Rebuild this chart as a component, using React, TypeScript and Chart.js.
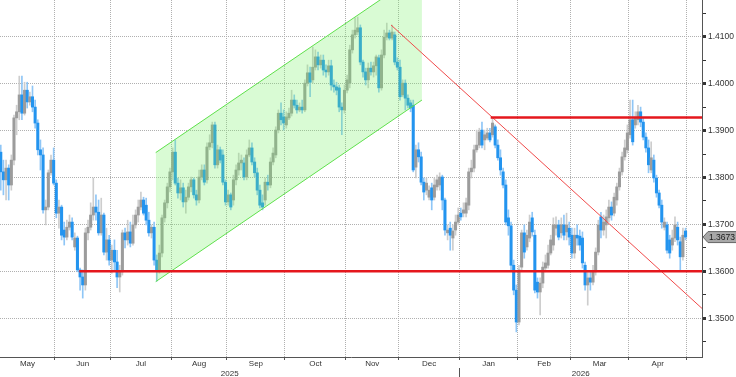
import React, { useEffect, useRef } from 'react';
import { Chart, registerables } from 'chart.js';

Chart.register(...registerables);
Chart.defaults.font.family = "'Liberation Sans', Arial, sans-serif";

// Daily candles, trading days from 2 May 2025 to 30 Apr 2026
const openP = [
  1.3854, 1.3812, 1.3795, 1.3820, 1.3784, 1.3837, 1.3927, 1.3940, 1.3976, 1.3937,
  1.3986, 1.3961, 1.3972, 1.3950, 1.3916, 1.3859, 1.3848, 1.3731, 1.3737, 1.3810,
  1.3837, 1.3788, 1.3724, 1.3737, 1.3688, 1.3673, 1.3694, 1.3705, 1.3652, 1.3671,
  1.3603, 1.3588, 1.3571, 1.3682, 1.3694, 1.3720, 1.3737, 1.3726, 1.3682, 1.3720,
  1.3641, 1.3667, 1.3624, 1.3645, 1.3620, 1.3588, 1.3599, 1.3682, 1.3667, 1.3684,
  1.3660, 1.3699, 1.3720, 1.3737, 1.3752, 1.3741, 1.3709, 1.3682, 1.3694, 1.3624,
  1.3603, 1.3639, 1.3714, 1.3746, 1.3780, 1.3812, 1.3854, 1.3788, 1.3767, 1.3778,
  1.3748, 1.3758, 1.3780, 1.3795, 1.3763, 1.3752, 1.3801, 1.3816, 1.3795, 1.3865,
  1.3874, 1.3912, 1.3827, 1.3859, 1.3848, 1.3790, 1.3748, 1.3763, 1.3752, 1.3795,
  1.3816, 1.3831, 1.3831, 1.3801, 1.3848, 1.3863, 1.3833, 1.3810, 1.3773, 1.3746,
  1.3752, 1.3790, 1.3784, 1.3833, 1.3848, 1.3901, 1.3937, 1.3929, 1.3912, 1.3927,
  1.3937, 1.3965, 1.3954, 1.3944, 1.3950, 1.3944, 1.4001, 1.4023, 1.4008, 1.4035,
  1.4057, 1.4040, 1.4050, 1.4029, 1.4025, 1.4038, 1.3997, 1.3993, 1.3991, 1.3950,
  1.3944, 1.3986, 1.4001, 1.4072, 1.4104, 1.4110, 1.4119, 1.4046, 1.4025, 1.4008,
  1.4033, 1.4025, 1.4038, 1.4055, 1.3991, 1.4061, 1.4099, 1.4108, 1.4097, 1.4104,
  1.4046, 1.4035, 1.3976, 1.4001, 1.3969, 1.3959, 1.3954, 1.3822, 1.3859, 1.3844,
  1.3790, 1.3773, 1.3758, 1.3778, 1.3758, 1.3780, 1.3784, 1.3801, 1.3752, 1.3682,
  1.3692, 1.3671, 1.3688, 1.3705, 1.3724, 1.3724, 1.3724, 1.3741, 1.3812, 1.3820,
  1.3859, 1.3869, 1.3901, 1.3880, 1.3884, 1.3895, 1.3891, 1.3908, 1.3869, 1.3842,
  1.3812, 1.3784, 1.3714, 1.3697, 1.3613, 1.3560, 1.3492, 1.3609, 1.3682, 1.3652,
  1.3671, 1.3714, 1.3677, 1.3577, 1.3556, 1.3575, 1.3607, 1.3613, 1.3639, 1.3656,
  1.3692, 1.3699, 1.3682, 1.3699, 1.3684, 1.3692, 1.3677, 1.3639, 1.3677, 1.3675,
  1.3671, 1.3613, 1.3571, 1.3586, 1.3577, 1.3599, 1.3641, 1.3716, 1.3688, 1.3699,
  1.3714, 1.3737, 1.3724, 1.3752, 1.3780, 1.3812, 1.3844, 1.3859, 1.3891, 1.3923,
  1.3912, 1.3923, 1.3940, 1.3918, 1.3886, 1.3863, 1.3816, 1.3837, 1.3799, 1.3767,
  1.3741, 1.3694, 1.3699, 1.3667, 1.3656, 1.3671, 1.3694, 1.3663, 1.3631, 1.3686,
];

const highP = [
  1.3869, 1.3837, 1.3837, 1.3827, 1.3848, 1.3933, 1.3954, 1.4016, 1.4016, 1.4003,
  1.4003, 1.3982, 1.3995, 1.3965, 1.3923, 1.3880, 1.3863, 1.3752, 1.3816, 1.3848,
  1.3863, 1.3795, 1.3752, 1.3741, 1.3705, 1.3709, 1.3720, 1.3714, 1.3682, 1.3675,
  1.3607, 1.3603, 1.3692, 1.3709, 1.3746, 1.3799, 1.3763, 1.3752, 1.3756, 1.3724,
  1.3692, 1.3677, 1.3656, 1.3667, 1.3645, 1.3613, 1.3688, 1.3692, 1.3709, 1.3705,
  1.3720, 1.3731, 1.3752, 1.3769, 1.3758, 1.3756, 1.3726, 1.3699, 1.3705, 1.3635,
  1.3656, 1.3720, 1.3752, 1.3788, 1.3820, 1.3863, 1.3880, 1.3799, 1.3795, 1.3788,
  1.3773, 1.3788, 1.3801, 1.3799, 1.3773, 1.3816, 1.3827, 1.3827, 1.3874, 1.3891,
  1.3918, 1.3918, 1.3869, 1.3865, 1.3859, 1.3795, 1.3773, 1.3767, 1.3805, 1.3827,
  1.3852, 1.3848, 1.3842, 1.3859, 1.3880, 1.3874, 1.3842, 1.3820, 1.3784, 1.3763,
  1.3799, 1.3805, 1.3842, 1.3863, 1.3908, 1.3944, 1.3959, 1.3944, 1.3940, 1.3948,
  1.3986, 1.3976, 1.3965, 1.3959, 1.3965, 1.4008, 1.4040, 1.4035, 1.4078, 1.4072,
  1.4067, 1.4061, 1.4061, 1.4040, 1.4050, 1.4050, 1.4008, 1.4003, 1.3997, 1.3959,
  1.3997, 1.4018, 1.4082, 1.4114, 1.4140, 1.4142, 1.4125, 1.4050, 1.4033, 1.4044,
  1.4046, 1.4046, 1.4061, 1.4061, 1.4072, 1.4114, 1.4129, 1.4114, 1.4125, 1.4110,
  1.4055, 1.4050, 1.4008, 1.4008, 1.3976, 1.3965, 1.3965, 1.3869, 1.3874, 1.3854,
  1.3799, 1.3799, 1.3782, 1.3788, 1.3799, 1.3805, 1.3810, 1.3805, 1.3756, 1.3699,
  1.3705, 1.3699, 1.3720, 1.3735, 1.3735, 1.3746, 1.3756, 1.3820, 1.3837, 1.3869,
  1.3901, 1.3905, 1.3918, 1.3901, 1.3905, 1.3905, 1.3927, 1.3912, 1.3880, 1.3859,
  1.3820, 1.3795, 1.3731, 1.3705, 1.3624, 1.3571, 1.3613, 1.3688, 1.3699, 1.3688,
  1.3720, 1.3726, 1.3688, 1.3586, 1.3586, 1.3620, 1.3635, 1.3656, 1.3677, 1.3714,
  1.3716, 1.3709, 1.3714, 1.3720, 1.3724, 1.3705, 1.3692, 1.3692, 1.3699, 1.3688,
  1.3684, 1.3620, 1.3599, 1.3599, 1.3613, 1.3650, 1.3709, 1.3726, 1.3720, 1.3731,
  1.3752, 1.3748, 1.3767, 1.3788, 1.3820, 1.3854, 1.3880, 1.3912, 1.3965, 1.3965,
  1.3940, 1.3954, 1.3950, 1.3927, 1.3895, 1.3880, 1.3876, 1.3848, 1.3805, 1.3773,
  1.3752, 1.3714, 1.3705, 1.3677, 1.3688, 1.3716, 1.3705, 1.3673, 1.3692, 1.3692,
];

const lowP = [
  1.3773, 1.3763, 1.3752, 1.3752, 1.3773, 1.3827, 1.3891, 1.3923, 1.3923, 1.3933,
  1.3948, 1.3954, 1.3940, 1.3905, 1.3848, 1.3816, 1.3724, 1.3699, 1.3731, 1.3805,
  1.3784, 1.3714, 1.3692, 1.3667, 1.3656, 1.3667, 1.3688, 1.3667, 1.3645, 1.3599,
  1.3560, 1.3543, 1.3560, 1.3667, 1.3688, 1.3709, 1.3709, 1.3677, 1.3677, 1.3635,
  1.3624, 1.3613, 1.3596, 1.3603, 1.3565, 1.3556, 1.3592, 1.3650, 1.3656, 1.3652,
  1.3656, 1.3692, 1.3705, 1.3731, 1.3720, 1.3699, 1.3675, 1.3671, 1.3613, 1.3579,
  1.3596, 1.3631, 1.3705, 1.3735, 1.3769, 1.3795, 1.3784, 1.3756, 1.3752, 1.3737,
  1.3724, 1.3752, 1.3769, 1.3756, 1.3741, 1.3746, 1.3795, 1.3784, 1.3788, 1.3859,
  1.3863, 1.3820, 1.3820, 1.3831, 1.3784, 1.3741, 1.3741, 1.3731, 1.3741, 1.3784,
  1.3805, 1.3816, 1.3795, 1.3795, 1.3844, 1.3827, 1.3801, 1.3763, 1.3735, 1.3731,
  1.3741, 1.3773, 1.3778, 1.3827, 1.3842, 1.3895, 1.3912, 1.3901, 1.3905, 1.3923,
  1.3931, 1.3948, 1.3937, 1.3940, 1.3937, 1.3940, 1.3995, 1.3972, 1.4001, 1.4029,
  1.4029, 1.4033, 1.4018, 1.4014, 1.4018, 1.3986, 1.3982, 1.3976, 1.3940, 1.3891,
  1.3937, 1.3980, 1.3991, 1.4065, 1.4097, 1.4104, 1.4040, 1.4014, 1.3997, 1.3991,
  1.4018, 1.4014, 1.4018, 1.3982, 1.3986, 1.4055, 1.4093, 1.4093, 1.4093, 1.4040,
  1.4029, 1.3965, 1.3972, 1.3944, 1.3948, 1.3940, 1.3812, 1.3799, 1.3833, 1.3784,
  1.3752, 1.3763, 1.3752, 1.3731, 1.3752, 1.3773, 1.3773, 1.3731, 1.3677, 1.3667,
  1.3645, 1.3645, 1.3677, 1.3699, 1.3709, 1.3716, 1.3716, 1.3731, 1.3799, 1.3812,
  1.3854, 1.3863, 1.3863, 1.3859, 1.3880, 1.3876, 1.3886, 1.3863, 1.3837, 1.3805,
  1.3778, 1.3699, 1.3677, 1.3603, 1.3550, 1.3471, 1.3486, 1.3603, 1.3628, 1.3645,
  1.3663, 1.3675, 1.3554, 1.3543, 1.3507, 1.3565, 1.3599, 1.3607, 1.3635, 1.3645,
  1.3677, 1.3667, 1.3671, 1.3667, 1.3667, 1.3656, 1.3628, 1.3628, 1.3656, 1.3645,
  1.3607, 1.3560, 1.3528, 1.3560, 1.3571, 1.3592, 1.3635, 1.3671, 1.3677, 1.3671,
  1.3705, 1.3709, 1.3718, 1.3741, 1.3773, 1.3805, 1.3837, 1.3852, 1.3884, 1.3869,
  1.3905, 1.3912, 1.3908, 1.3880, 1.3854, 1.3810, 1.3810, 1.3790, 1.3758, 1.3735,
  1.3692, 1.3688, 1.3639, 1.3628, 1.3645, 1.3663, 1.3656, 1.3603, 1.3624, 1.3667,
];

const closeP = [
  1.3812, 1.3795, 1.3820, 1.3784, 1.3837, 1.3927, 1.3940, 1.3976, 1.3937, 1.3986,
  1.3961, 1.3972, 1.3950, 1.3916, 1.3859, 1.3848, 1.3731, 1.3737, 1.3810, 1.3837,
  1.3788, 1.3724, 1.3737, 1.3677, 1.3673, 1.3694, 1.3705, 1.3673, 1.3671, 1.3603,
  1.3588, 1.3571, 1.3682, 1.3694, 1.3720, 1.3737, 1.3726, 1.3682, 1.3720, 1.3641,
  1.3667, 1.3624, 1.3645, 1.3620, 1.3588, 1.3599, 1.3682, 1.3667, 1.3684, 1.3660,
  1.3699, 1.3720, 1.3737, 1.3752, 1.3724, 1.3709, 1.3682, 1.3694, 1.3624, 1.3603,
  1.3639, 1.3714, 1.3746, 1.3780, 1.3812, 1.3854, 1.3788, 1.3767, 1.3778, 1.3748,
  1.3758, 1.3780, 1.3795, 1.3763, 1.3752, 1.3801, 1.3816, 1.3790, 1.3865, 1.3874,
  1.3912, 1.3827, 1.3859, 1.3837, 1.3790, 1.3748, 1.3763, 1.3737, 1.3795, 1.3816,
  1.3831, 1.3837, 1.3801, 1.3848, 1.3863, 1.3833, 1.3810, 1.3773, 1.3741, 1.3737,
  1.3790, 1.3784, 1.3833, 1.3852, 1.3901, 1.3937, 1.3923, 1.3916, 1.3929, 1.3937,
  1.3965, 1.3954, 1.3944, 1.3950, 1.3944, 1.4001, 1.4023, 1.4003, 1.4035, 1.4057,
  1.4040, 1.4050, 1.4029, 1.4025, 1.4038, 1.3997, 1.3993, 1.3986, 1.3950, 1.3944,
  1.3986, 1.4008, 1.4072, 1.4104, 1.4114, 1.4119, 1.4046, 1.4025, 1.4008, 1.4033,
  1.4025, 1.4038, 1.4057, 1.3991, 1.4061, 1.4099, 1.4108, 1.4097, 1.4110, 1.4046,
  1.4035, 1.3972, 1.4001, 1.3969, 1.3954, 1.3948, 1.3816, 1.3859, 1.3844, 1.3790,
  1.3769, 1.3788, 1.3773, 1.3752, 1.3784, 1.3795, 1.3801, 1.3752, 1.3688, 1.3688,
  1.3677, 1.3686, 1.3705, 1.3720, 1.3716, 1.3731, 1.3746, 1.3812, 1.3820, 1.3859,
  1.3869, 1.3897, 1.3869, 1.3891, 1.3895, 1.3880, 1.3916, 1.3869, 1.3842, 1.3816,
  1.3784, 1.3705, 1.3697, 1.3613, 1.3560, 1.3492, 1.3603, 1.3682, 1.3641, 1.3677,
  1.3705, 1.3684, 1.3560, 1.3556, 1.3575, 1.3609, 1.3618, 1.3639, 1.3667, 1.3699,
  1.3699, 1.3673, 1.3699, 1.3677, 1.3699, 1.3673, 1.3639, 1.3677, 1.3671, 1.3656,
  1.3618, 1.3571, 1.3586, 1.3577, 1.3599, 1.3641, 1.3699, 1.3688, 1.3705, 1.3716,
  1.3737, 1.3720, 1.3758, 1.3780, 1.3812, 1.3844, 1.3863, 1.3895, 1.3923, 1.3876,
  1.3927, 1.3940, 1.3918, 1.3886, 1.3863, 1.3827, 1.3842, 1.3799, 1.3767, 1.3741,
  1.3705, 1.3705, 1.3645, 1.3639, 1.3671, 1.3699, 1.3667, 1.3631, 1.3677, 1.3673,
];

// Calendar: trading-day count at which each month starts (0 = 1 May 2025)
const monthStarts = [22, 43, 66, 87, 109, 132, 152, 175, 197, 217, 239, 261];
const monthNames = ['May', 'Jun', 'Jul', 'Aug', 'Sep', 'Oct', 'Nov', 'Dec', 'Jan', 'Feb', 'Mar', 'Apr'];
const yearNames = ['2025', '2026'];
const yearBoundary = 175;
const priceTicks = [1.345, 1.35, 1.355, 1.36, 1.365, 1.37, 1.375, 1.38, 1.385, 1.39, 1.395, 1.4, 1.405, 1.41, 1.415];

// Drawn studies (trading-day, price)
const supportLevel = 1.36;
const supportFromDay = 31.2;
const resistanceLevel = 1.3928;
const resistanceFromDay = 186.8;
const trendStartDay = 149.1;
const trendStartPrice = 1.4125;
const trendEndPrice = 1.3521;
const channelDays = [60.1, 160.8];
const channelUpper = [1.3853, 1.4239];
const channelLower = [1.3578, 1.3965];

// View window
const X_MIN = 1.21;
const X_MAX = 266.72;
const Y_MIN = 1.34175;
const Y_MAX = 1.41782;

const GRID = '#b0b0b0';
const AXIS = '#555555';
const TEXT = '#333333';
const BLUE_BODY = '#2394ef';
const BLUE_WICK = '#8fc6f6';
const GREY_BODY = '#9c9c9c';
const GREY_WICK = '#cdcdcd';

const isMajor = (v: number) => Math.round(v * 10000) % 100 === 0;
const isUp = (i: number) => closeP[i] >= openP[i];

const lastPricePlugin = {
  id: 'lastPrice',
  afterDraw(chart: any) {
    const { ctx, chartArea, scales } = chart;
    const v = closeP[closeP.length - 1];
    const y = scales.y.getPixelForValue(v);
    const x0 = chartArea.right + 1;
    const h = 5.5;
    ctx.save();
    ctx.beginPath();
    ctx.moveTo(x0, y);
    ctx.lineTo(x0 + 5, y - h);
    ctx.lineTo(chart.width + 2, y - h);
    ctx.lineTo(chart.width + 2, y + h);
    ctx.lineTo(x0 + 5, y + h);
    ctx.closePath();
    ctx.fillStyle = '#a8a8a8';
    ctx.fill();
    ctx.strokeStyle = '#666666';
    ctx.lineWidth = 1;
    ctx.stroke();
    ctx.fillStyle = '#1a1a1a';
    ctx.font = "8.5px 'Liberation Sans', Arial, sans-serif";
    ctx.textBaseline = 'middle';
    ctx.textAlign = 'left';
    ctx.fillText(v.toFixed(4), x0 + 6, y + 0.5);
    ctx.restore();
  },
};

export default function App() {
  const ref = useRef<HTMLCanvasElement>(null);

  useEffect(() => {
    document.body.style.margin = '0';
    const days = closeP.map((_, i) => i + 1.5);
    const wickData = days.map((d, i) => ({ x: d, y: [lowP[i], highP[i]] }));
    const bodyData = days.map((d, i) => ({ x: d, y: [openP[i], closeP[i]] }));

    const monthCenters = monthNames.map((_, i) => {
      const start = i === 0 ? X_MIN : monthStarts[i - 1];
      return (start + monthStarts[i]) / 2;
    });
    const yearTicks = [(X_MIN + yearBoundary) / 2, yearBoundary, (yearBoundary + X_MAX) / 2];
    const yearTickLabels = [yearNames[0], '', yearNames[1]];

    const line = (pts: { x: number; y: number }[], color: string, width: number, order: number, extra: any = {}) => ({
      type: 'line',
      data: pts,
      borderColor: color,
      borderWidth: width,
      pointRadius: 0,
      fill: false,
      tension: 0,
      order,
      ...extra,
    });

    const chart = new Chart(ref.current as HTMLCanvasElement, {
      type: 'bar',
      data: {
        datasets: [
          {
            type: 'bar',
            data: wickData as any,
            backgroundColor: (c: any) => (isUp(c.dataIndex) ? GREY_WICK : BLUE_WICK),
            barThickness: 1,
            grouped: false,
            borderWidth: 0,
            order: 6,
          },
          {
            type: 'bar',
            data: bodyData as any,
            backgroundColor: (c: any) => (isUp(c.dataIndex) ? GREY_BODY : BLUE_BODY),
            barThickness: 2.4,
            minBarLength: 1,
            grouped: false,
            borderWidth: 0,
            order: 5,
          },
          line(
            [{ x: channelDays[0], y: channelUpper[0] }, { x: channelDays[1], y: channelUpper[1] }],
            '#5fe04c', 1, 4,
            { fill: '+1', backgroundColor: 'rgba(120,240,100,0.28)' }
          ),
          line(
            [{ x: channelDays[0], y: channelLower[0] }, { x: channelDays[1], y: channelLower[1] }],
            '#5fe04c', 1, 3
          ),
          line([{ x: trendStartDay, y: trendStartPrice }, { x: X_MAX, y: trendEndPrice }], '#f04a4a', 1, 2),
          line([{ x: supportFromDay, y: supportLevel }, { x: X_MAX, y: supportLevel }], '#e5171d', 2.5, 1),
          line([{ x: resistanceFromDay, y: resistanceLevel }, { x: X_MAX, y: resistanceLevel }], '#e5171d', 2.5, 1),
        ] as any,
      },
      options: {
        animation: false,
        responsive: false,
        events: [],
        layout: { padding: 0 },
        plugins: {
          legend: { display: false },
          tooltip: { enabled: false },
        },
        scales: {
          x: {
            type: 'linear',
            position: 'bottom',
            min: X_MIN,
            max: X_MAX,
            offset: false,
            weight: 0,
            afterBuildTicks: (s: any) => {
              s.ticks = monthStarts.map((v) => ({ value: v }));
            },
            afterFit: (s: any) => {
              s.height = 0;
              s.paddingLeft = 0;
              s.paddingRight = 0;
            },
            ticks: { display: false, autoSkip: false },
            grid: {
              offset: false,
              color: GRID,
              lineWidth: 1,
              drawTicks: true,
              tickLength: 3,
              tickColor: AXIS,
              tickWidth: 1,
              tickBorderDash: [],
            },
            border: { display: true, color: AXIS, width: 1, dash: [1, 1] },
          },
          xm: {
            type: 'linear',
            position: 'bottom',
            min: X_MIN,
            max: X_MAX,
            offset: false,
            weight: 1,
            afterBuildTicks: (s: any) => {
              s.ticks = monthCenters.map((v) => ({ value: v }));
            },
            afterFit: (s: any) => {
              s.height = 11;
              s.paddingLeft = 0;
              s.paddingRight = 0;
            },
            ticks: {
              autoSkip: false,
              maxRotation: 0,
              padding: 1.7,
              color: TEXT,
              font: { size: 8 },
              callback: (_v: any, i: number) => monthNames[i],
            },
            grid: { display: false, drawTicks: false, tickLength: 0, offset: false },
            border: { display: false },
          },
          xy: {
            type: 'linear',
            position: 'bottom',
            min: X_MIN,
            max: X_MAX,
            offset: false,
            weight: 2,
            afterBuildTicks: (s: any) => {
              s.ticks = yearTicks.map((v) => ({ value: v }));
            },
            afterFit: (s: any) => {
              s.height = 9;
              s.paddingLeft = 0;
              s.paddingRight = 0;
            },
            ticks: {
              autoSkip: false,
              maxRotation: 0,
              padding: -8.5,
              color: TEXT,
              font: { size: 8 },
              callback: (_v: any, i: number) => yearTickLabels[i],
            },
            grid: {
              display: true,
              offset: false,
              drawOnChartArea: false,
              drawTicks: true,
              tickLength: 9,
              color: 'rgba(0,0,0,0)',
              lineWidth: 1,
              tickWidth: 1,
              tickColor: (c: any) => (c.index === 1 ? AXIS : 'rgba(0,0,0,0)'),
            },
            border: { display: false },
          },
          y: {
            type: 'linear',
            position: 'right',
            min: Y_MIN,
            max: Y_MAX,
            stacked: false,
            afterBuildTicks: (s: any) => {
              s.ticks = priceTicks.map((v) => ({ value: v }));
            },
            afterFit: (s: any) => {
              s.width = 34;
              s.paddingTop = 0;
              s.paddingBottom = 0;
            },
            ticks: {
              autoSkip: false,
              padding: 2,
              color: TEXT,
              font: { size: 8.5 },
              callback: (v: any) => (isMajor(Number(v)) ? Number(v).toFixed(4) : ''),
            },
            grid: {
              color: (c: any) => (c.tick && isMajor(c.tick.value) ? GRID : 'rgba(0,0,0,0)'),
              lineWidth: 1,
              drawTicks: true,
              tickLength: 4,
              tickColor: '#333333',
              tickWidth: (c: any) => (c.tick && isMajor(c.tick.value) ? 3 : 1),
              tickBorderDash: [],
            },
            border: { display: true, color: AXIS, width: 1, dash: [1, 1] },
          },
        } as any,
      },
      plugins: [lastPricePlugin],
    } as any);

    return () => chart.destroy();
  }, []);

  return (
    <div style={{ width: 736, height: 377 }}>
      <canvas ref={ref} width={736} height={377} style={{ display: 'block' }} />
    </div>
  );
}
